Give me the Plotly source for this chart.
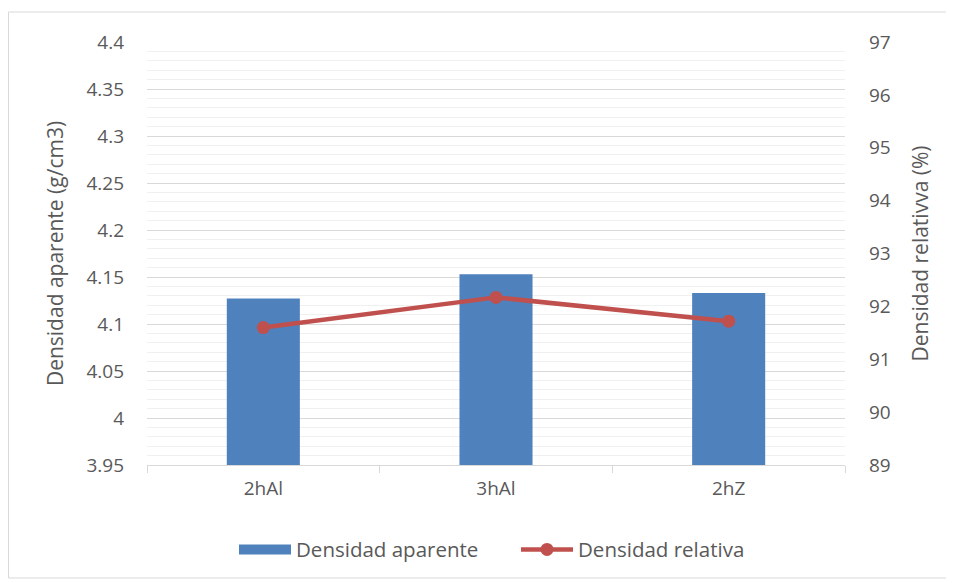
import plotly.graph_objects as go

# datos
categorias = ['2hAl', '3hAl', '2hZ']
densidad_aparente = [4.127, 4.153, 4.133]
densidad_relativa = [91.6, 92.17, 91.72]

TXT = '#595959'
AZUL = '#4f81bd'
ROJO = '#c0504d'
FONT = 'Open Sans'

# la página añade 8px de margen al body: se compensa aquí
W, H = 946, 575
ML, MT, PW, PH = 139, 34, 698, 423

fig = go.Figure()

fig.add_trace(go.Bar(
    x=categorias,
    y=densidad_aparente,
    name='Densidad aparente',
    marker=dict(color=AZUL, line=dict(width=0)),
    showlegend=False,
    yaxis='y',
))

# entrada de leyenda: rectángulo ancho como en Excel
fig.add_trace(go.Scatter(
    x=[categorias[0]],
    y=[None],
    name='Densidad aparente',
    mode='lines',
    line=dict(color=AZUL, width=14),
    hoverinfo='skip',
    yaxis='y',
))

fig.add_trace(go.Scatter(
    x=categorias,
    y=densidad_relativa,
    name='Densidad relativa',
    mode='lines+markers',
    line=dict(color=ROJO, width=4.5),
    marker=dict(color=ROJO, size=13),
    yaxis='y2',
))

fig.update_layout(
    width=W,
    height=H,
    margin=dict(l=ML, r=W - ML - PW, t=MT, b=H - MT - PH),
    paper_bgcolor='white',
    plot_bgcolor='white',
    font=dict(family=FONT, size=19, color=TXT),
    bargap=0.686,
    xaxis=dict(
        showgrid=False,
        showline=True,
        linecolor='#d9d9d9',
        linewidth=1,
        ticks='outside',
        tickson='boundaries',
        ticklen=7,
        tickcolor='#d9d9d9',
        ticklabelstandoff=6,
        tickfont=dict(size=19, color=TXT),
    ),
    yaxis=dict(
        range=[3.95, 4.4],
        dtick=0.05,
        tick0=3.95,
        tickformat='.3~f',
        showgrid=True,
        gridcolor='#d9d9d9',
        gridwidth=1,
        zeroline=False,
        showline=False,
        ticks='',
        ticklabelstandoff=22,
        minor=dict(dtick=0.01, showgrid=True, gridcolor='#f0f0f0', gridwidth=1),
        title=dict(text='Densidad aparente (g/cm3)', font=dict(size=21, color=TXT), standoff=17),
        tickfont=dict(size=19, color=TXT),
    ),
    yaxis2=dict(
        range=[89, 97],
        dtick=1,
        overlaying='y',
        side='right',
        showgrid=False,
        zeroline=False,
        showline=False,
        ticks='',
        ticklabelstandoff=23,
        title=dict(text='Densidad relativva (%)', font=dict(size=21, color=TXT), standoff=23),
        tickfont=dict(size=19, color=TXT),
    ),
    legend=dict(
        orientation='h',
        x=(226 - ML) / PW,
        xanchor='left',
        y=-0.2,
        yanchor='middle',
        font=dict(size=20.5, color=TXT),
        itemwidth=52,
        entrywidth=215,
        traceorder='normal',
    ),
    shapes=[dict(
        type='rect', xref='paper', yref='paper',
        x0=-(ML - 0.5) / PW, x1=(939 - ML) / PW,
        y0=-(570 - MT - PH) / PH, y1=1 + (MT - 4) / PH,
        line=dict(color='#d9d9d9', width=1),
        fillcolor='rgba(0,0,0,0)',
        layer='below',
    )],
)

fig.write_html('out.html')
